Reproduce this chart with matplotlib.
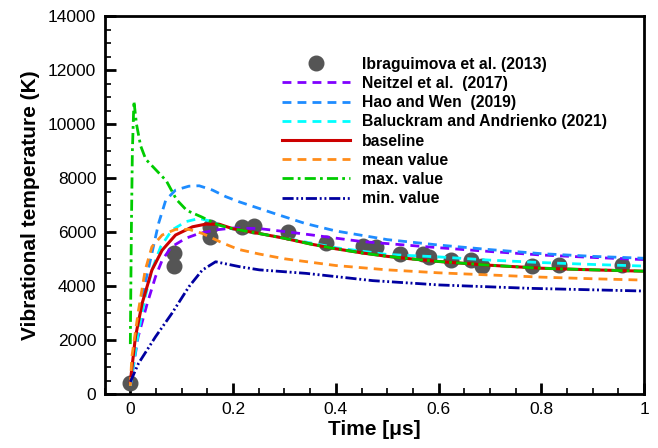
import numpy as np
import matplotlib
matplotlib.use('Agg')
import matplotlib.pyplot as plt
from matplotlib.ticker import MultipleLocator

plt.rcParams['font.family'] = ['Liberation Sans', 'DejaVu Sans']

# experiment
t_exp = [0.0, 0.085, 0.085, 0.156, 0.156, 0.218, 0.241, 0.307, 0.380, 0.453, 0.479,
         0.524, 0.569, 0.581, 0.624, 0.663, 0.685, 0.781, 0.835, 0.957]
T_exp = [390, 5210, 4750, 6200, 5800, 6170, 6230, 6010, 5580, 5480, 5460,
         5200, 5185, 5075, 4960, 4960, 4750, 4740, 4780, 4780]

# Neitzel et al. (2017)
t_nei = [0.0, 0.015, 0.033, 0.049, 0.062, 0.08, 0.108, 0.134, 0.166, 0.2, 0.25, 0.3, 0.35, 0.45,
         0.6, 0.7, 0.8, 0.9, 1.0]
T_nei = [300, 2100, 3360, 4345, 4960, 5450, 5770, 5950, 6080, 6150, 6130, 6020, 5900, 5650,
         5420, 5280, 5150, 5060, 4980]

# Hao and Wen (2019)
t_hao = [0.0, 0.01, 0.023, 0.039, 0.055, 0.069, 0.088, 0.114, 0.134, 0.16, 0.186, 0.212, 0.28,
         0.34, 0.4, 0.5, 0.6, 0.7, 0.8, 0.9, 1.0]
T_hao = [300, 2120, 3600, 4960, 6320, 7185, 7555, 7700, 7715, 7555, 7310, 7120, 6690,
         6320, 6040, 5720, 5520, 5350, 5200, 5100, 5030]

# Baluckram and Andrienko (2021)
t_bal = [0.0, 0.015, 0.029, 0.042, 0.059, 0.081, 0.108, 0.134, 0.16, 0.192, 0.3, 0.4, 0.5,
         0.6, 0.7, 0.8, 0.9, 1.0]
T_bal = [300, 2200, 3600, 4590, 5455, 6075, 6385, 6505, 6385, 6140, 5780, 5420, 5170,
         5080, 4960, 4870, 4800, 4740]

# baseline
t_base = [0.0, 0.01, 0.023, 0.042, 0.062, 0.088, 0.121, 0.147, 0.173, 0.2, 0.25, 0.3, 0.35, 0.4,
          0.45, 0.5, 0.55, 0.6, 0.7, 0.8, 0.9, 1.0]
T_base = [450, 2120, 3360, 4590, 5330, 5890, 6195, 6295, 6290, 6120, 5950, 5770, 5560, 5380,
          5230, 5100, 5000, 4910, 4770, 4660, 4600, 4550]

# mean value
t_mean = [0.0, 0.003, 0.016, 0.029, 0.042, 0.062, 0.088, 0.114, 0.14, 0.179, 0.21, 0.25, 0.3,
          0.4, 0.5, 0.6, 0.7, 0.8, 0.9, 1.0]
T_mean = [300, 1380, 3110, 4590, 5455, 5890, 6100, 6100, 5950, 5600, 5360, 5190, 5010,
          4760, 4600, 4490, 4410, 4330, 4270, 4220]

# max. value
t_max = [0.0, 0.002, 0.004, 0.007, 0.012, 0.02, 0.03, 0.045, 0.07, 0.09, 0.11, 0.14, 0.17, 0.2,
         0.25, 0.3, 0.35, 0.4, 0.45, 0.5, 0.55, 0.6, 0.7, 0.8, 0.9, 1.0]
T_max = [1850, 6000, 9000, 10850, 10000, 9200, 8700, 8400, 7900, 7200, 6800, 6550, 6270, 6120,
         5950, 5770, 5560, 5380, 5230, 5100, 5000, 4910, 4770, 4660, 4600, 4550]

# min. value
t_min = [0.0, 0.016, 0.049, 0.081, 0.114, 0.14, 0.166, 0.212, 0.251, 0.342, 0.472, 0.602, 0.778, 1.0]
T_min = [450, 1136, 2120, 2990, 3975, 4590, 4900, 4720, 4600, 4470, 4200, 4040, 3915, 3815]

fig = plt.figure(figsize=(6.58, 4.48), dpi=100)
ax = fig.add_axes([0.159, 0.1205, 0.82, 0.8435])

lw = 2.0
dsh = (3.2, 2.2)
ax.plot(t_exp, T_exp, 'o', color='#555555', markersize=10.5, label='Ibraguimova et al. (2013)')
ax.plot(t_nei, T_nei, '--', color='#8000FF', lw=lw, dashes=dsh, label='Neitzel et al.  (2017)')
ax.plot(t_hao, T_hao, '--', color='#1E8CFF', lw=lw, dashes=dsh, label='Hao and Wen  (2019)')
ax.plot(t_bal, T_bal, '--', color='#00FFFF', lw=lw, dashes=dsh, label='Baluckram and Andrienko (2021)')
ax.plot(t_base, T_base, '-', color='#CC0000', lw=lw + 0.2, label='baseline')
ax.plot(t_mean, T_mean, '--', color='#FF8C1A', lw=lw, dashes=dsh, label='mean value')
ax.plot(t_max, T_max, color='#00CC00', lw=lw, dashes=(4, 1.5, 1, 1.5), label='max. value')
ax.plot(t_min, T_min, color='#0000A0', lw=lw, dashes=(4, 1, 0.7, 1, 0.7, 1), label='min. value')

ax.set_xlim(-0.05, 1.0)
ax.set_ylim(0, 14000)
ax.set_xticks([0, 0.2, 0.4, 0.6, 0.8, 1.0])
ax.set_xticklabels(['0', '0.2', '0.4', '0.6', '0.8', '1'])
ax.xaxis.set_minor_locator(MultipleLocator(0.05))
ax.yaxis.set_major_locator(MultipleLocator(2000))
ax.yaxis.set_minor_locator(MultipleLocator(500))
ax.tick_params(which='major', direction='in', length=8, width=2, labelsize=12.5, pad=6)
ax.tick_params(which='minor', direction='in', length=4, width=1.2)
for s in ax.spines.values():
    s.set_linewidth(2)

ax.set_xlabel('Time [\u03bcs]', fontsize=15, fontweight='bold', labelpad=2)
ax.set_ylabel('Vibrational temperature (K)', fontsize=15, fontweight='bold', labelpad=6)

leg = ax.legend(loc='upper left', bbox_to_anchor=(0.329, 0.893), frameon=False,
                prop={'weight': 'bold', 'size': 11.3}, handlelength=4.3,
                labelspacing=0.27, handletextpad=0.8, borderpad=0, borderaxespad=0)

plt.savefig('out.png', dpi=100)
